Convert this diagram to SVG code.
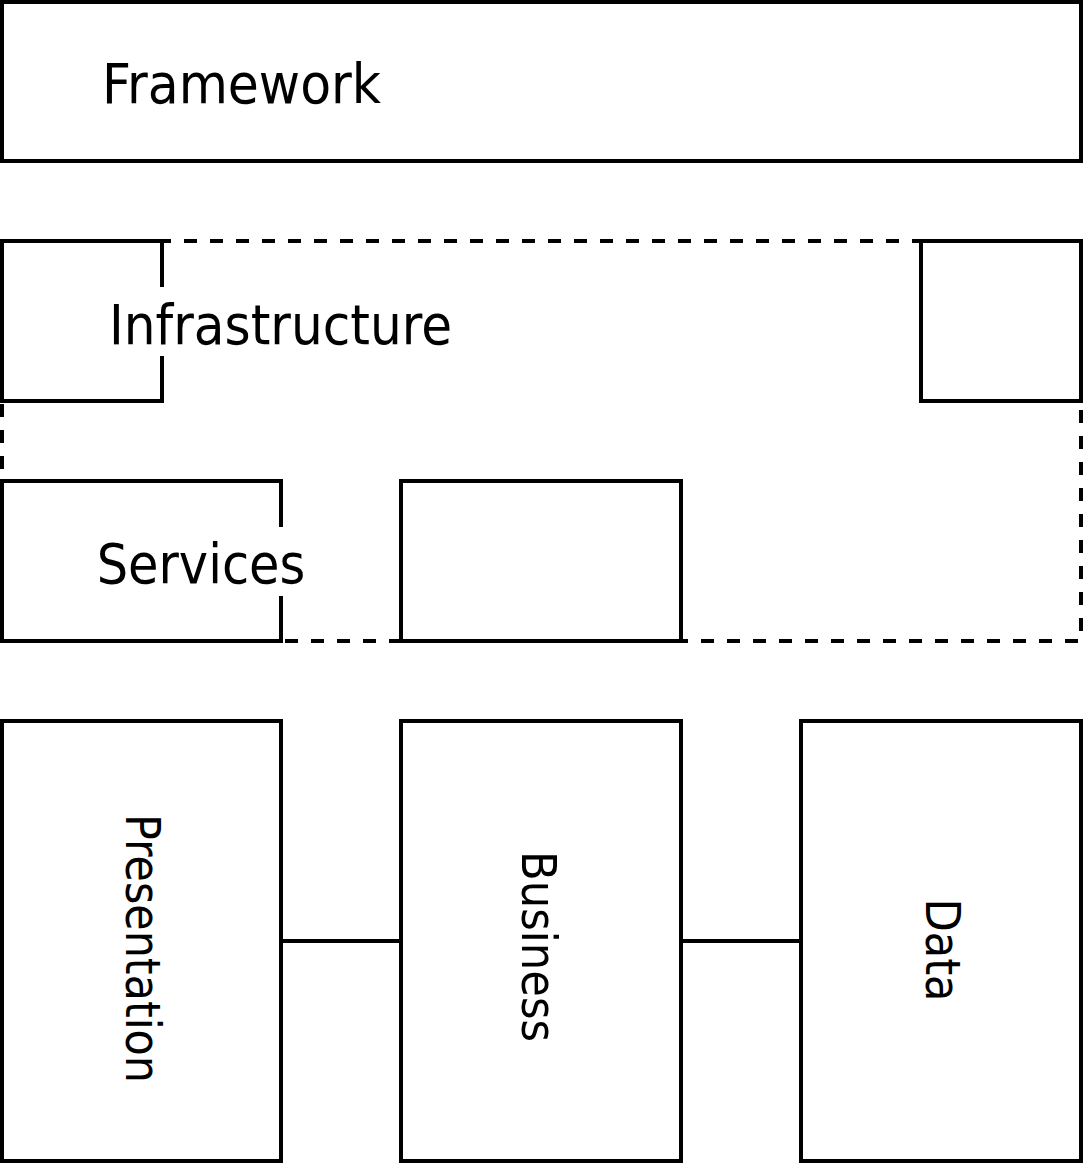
<svg xmlns="http://www.w3.org/2000/svg" width="1084" height="1164" viewBox="0 0 1084 1164">
<style>
.box{fill:#fff;stroke:#000;stroke-width:4}
.dash{fill:none;stroke:#000;stroke-width:4;stroke-dasharray:13 13}
.lbl{font-family:"DejaVu Sans Condensed","DejaVu Sans",sans-serif;fill:#000}
.bg{fill:#fff;stroke:none}
.conn{stroke:#000;stroke-width:4;fill:none}
</style>
<rect width="1084" height="1164" fill="#fff"/>
<g id="framework">
<rect class="box" x="2" y="2" width="1079" height="159"/>
<text class="lbl" x="241.5" y="103" font-size="56" text-anchor="middle" textLength="279" lengthAdjust="spacingAndGlyphs">Framework</text>
</g>
<g id="infrastructure-group">
<path class="dash" d="M2 241H1081V641H2Z"/>
</g>
<g id="infrastructure">
<path class="box" d="M2 241H162V401H2Z"/>
<rect class="bg" x="106" y="287" width="350" height="69"/>
<text class="lbl" x="280.5" y="344" font-size="56" text-anchor="middle" textLength="343" lengthAdjust="spacingAndGlyphs">Infrastructure</text>
</g>
<g id="infrastructure-right">
<path class="box" d="M921 241H1081V401H921Z"/>
</g>
<g id="services-2">
<path class="box" d="M401 481H681V641H401Z"/>
</g>
<g id="services">
<path class="box" d="M2 481H281V641H2Z"/>
<rect class="bg" x="96" y="527" width="210" height="69"/>
<text class="lbl" x="201" y="583" font-size="55" text-anchor="middle">Services</text>
</g>
<g id="connectors">
<line class="conn" x1="281" y1="941" x2="401" y2="941"/>
<line class="conn" x1="681" y1="941" x2="801" y2="941"/>
</g>
<g id="presentation">
<rect class="box" x="2" y="721" width="279" height="440"/>
<text class="lbl" transform="translate(126,948.5) rotate(90)" font-size="48" text-anchor="middle" textLength="269" lengthAdjust="spacingAndGlyphs">Presentation</text>
</g>
<g id="business">
<rect class="box" x="401" y="721" width="280" height="440"/>
<text class="lbl" transform="translate(522,946.5) rotate(90)" font-size="48" text-anchor="middle" textLength="191" lengthAdjust="spacingAndGlyphs">Business</text>
</g>
<g id="data">
<rect class="box" x="801" y="721" width="280" height="440"/>
<text class="lbl" transform="translate(926,950) rotate(90)" font-size="48" text-anchor="middle" textLength="103" lengthAdjust="spacingAndGlyphs">Data</text>
</g>
</svg>
